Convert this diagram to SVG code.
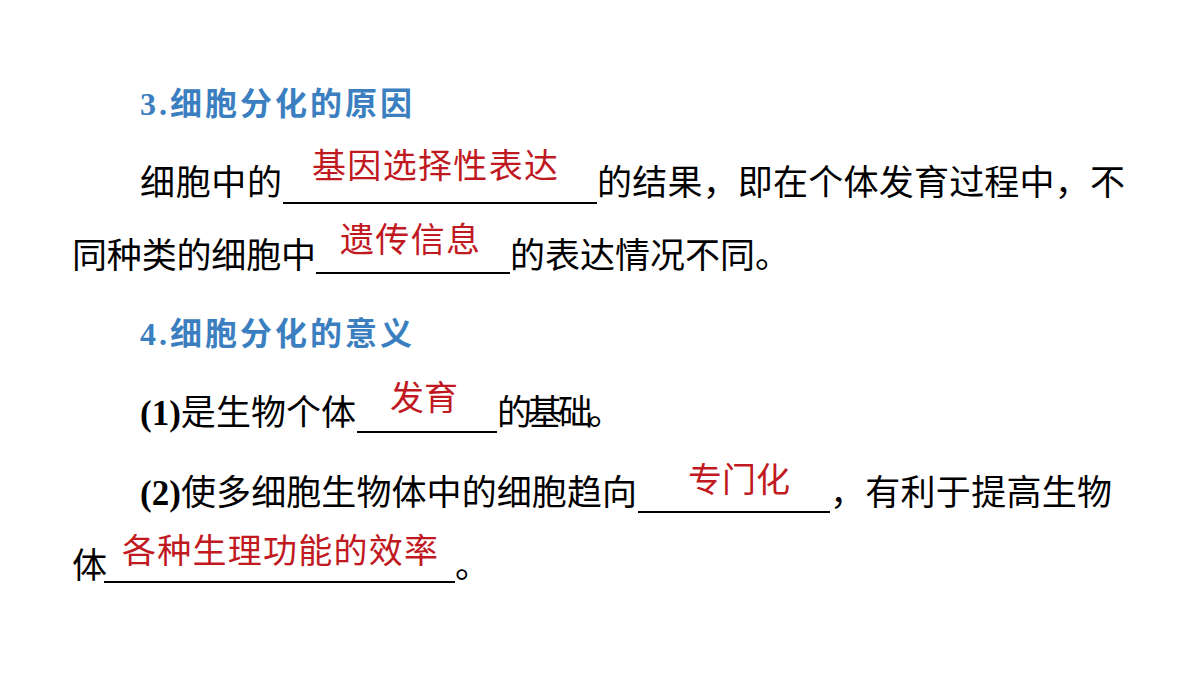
<svg xmlns="http://www.w3.org/2000/svg" width="1200" height="675" viewBox="0 0 1200 675">
<style>
.t{font-family:"Liberation Serif","Noto Sans CJK SC",serif;font-size:35px;fill:#000}
.h{font-family:"Liberation Serif","Noto Sans CJK SC",serif;font-size:32px;font-weight:bold;fill:#3b7fc0}
.r{font-family:"Noto Sans CJK SC",sans-serif;font-size:34px;fill:#c0191f}
.b{font-weight:bold}
.u{stroke:#000;stroke-width:2}
</style>
<rect width="1200" height="675" fill="#fff"/>
<g id="s3">
<text class="h" x="140" y="115" textLength="272">3.细胞分化的原因</text>
<text class="t" x="140" y="195" textLength="142">细胞中的</text>
<line class="u" x1="283" y1="203" x2="597" y2="203"/>
<text class="r" x="312" y="178" textLength="246">基因选择性表达</text>
<text class="t" x="597" y="195" textLength="528">的结果，即在个体发育过程中，不</text>
<text class="t" x="72" y="268" textLength="244">同种类的细胞中</text>
<line class="u" x1="316" y1="273" x2="510" y2="273"/>
<text class="r" x="340" y="252" textLength="140">遗传信息</text>
<text class="t" x="510" y="268" textLength="280">的表达情况不同。</text>
</g>
<g id="s4">
<text class="h" x="140" y="345" textLength="272">4.细胞分化的意义</text>
<text class="t" x="140" y="425" textLength="216"><tspan class="b">(1)</tspan>是生物个体</text>
<line class="u" x1="357" y1="432" x2="497" y2="432"/>
<text class="r" x="390" y="410">发育</text>
<text class="t" x="497" y="425" textLength="126">的基础。</text>
<text class="t" x="140" y="505" textLength="497"><tspan class="b">(2)</tspan>使多细胞生物体中的细胞趋向</text>
<line class="u" x1="638" y1="512" x2="830" y2="512"/>
<text class="r" x="688" y="492">专门化</text>
<text class="t" x="830" y="505" textLength="282">，有利于提高生物</text>
<text class="t" x="72" y="578">体</text>
<line class="u" x1="104" y1="582" x2="455" y2="582"/>
<text class="r" x="122" y="563" textLength="316">各种生理功能的效率</text>
<text class="t" x="455" y="578">。</text>
</g>
</svg>
